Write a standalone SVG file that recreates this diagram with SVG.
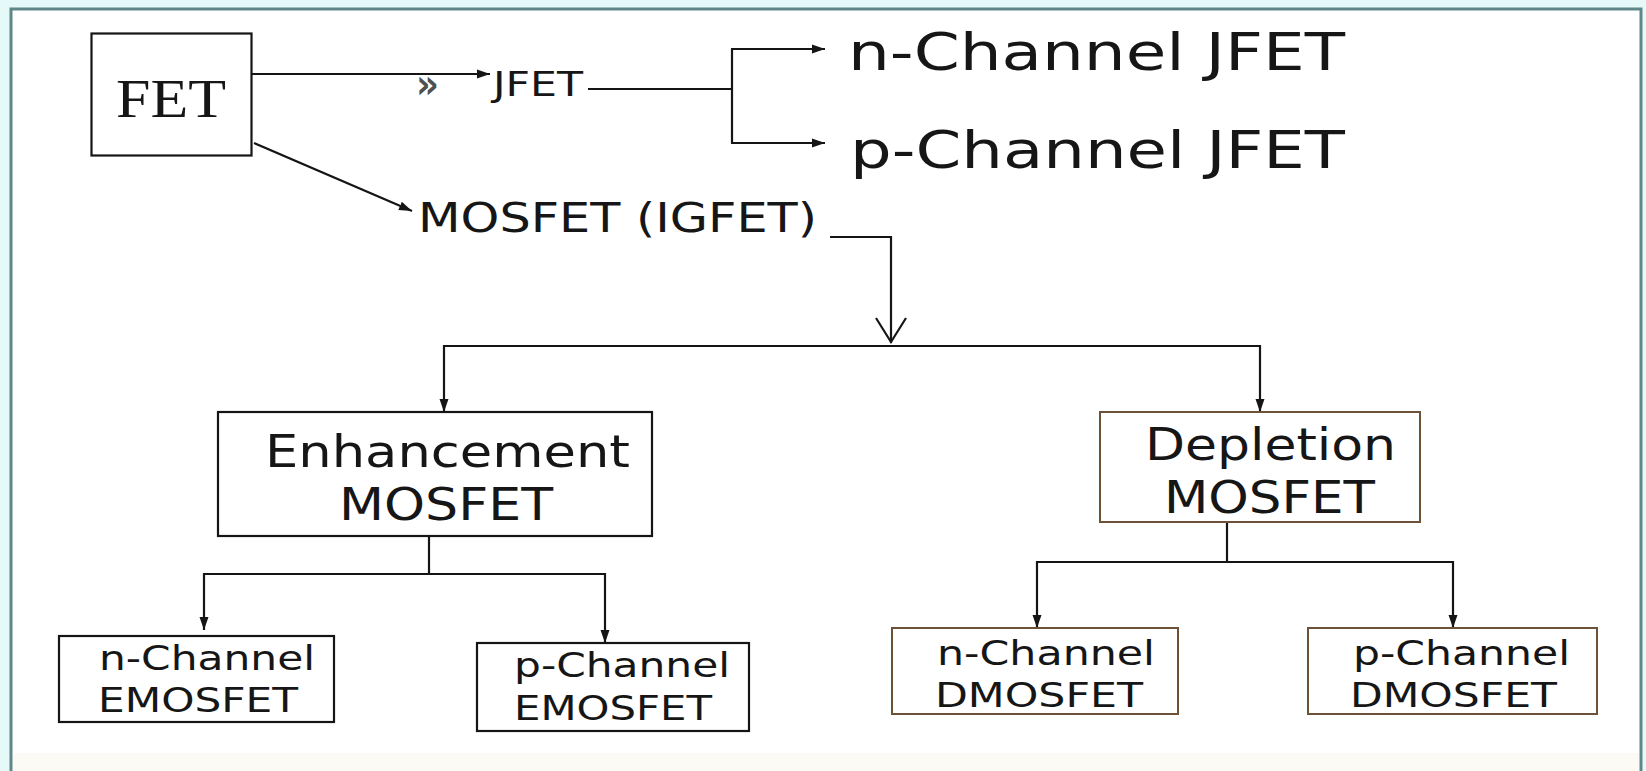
<svg xmlns="http://www.w3.org/2000/svg" width="1646" height="771" viewBox="0 0 1646 771">
<defs>
<style>
.t{font-family:"DejaVu Sans","Verdana",sans-serif;fill:#161616}
.s{font-family:"Liberation Serif","Times New Roman",serif;fill:#161616}
.bx{fill:#ffffff;stroke:#151515;stroke-width:2.2}
.bb{fill:#ffffff;stroke:#6e5238;stroke-width:2}
.c{fill:none;stroke:#151515;stroke-width:2.2}
</style>
<marker id="ah" markerWidth="13" markerHeight="10" refX="13" refY="5" orient="auto" markerUnits="userSpaceOnUse">
<path d="M0,0.5 L13,5 L0,9.5 z" fill="#151515"/>
</marker>
</defs>
<rect x="0" y="0" width="1646" height="771" fill="#e6f9f9"/>
<rect x="11" y="9" width="1630" height="780" fill="#ffffff" stroke="#5f8787" stroke-width="3"/>
<rect x="13" y="753" width="1626" height="18" fill="#fbfaf4"/>

<g id="connectors">
<line class="c" x1="252" y1="74" x2="490" y2="74" marker-end="url(#ah)"/>
<line class="c" x1="254" y1="143" x2="412" y2="211" marker-end="url(#ah)"/>
<polyline class="c" points="588,89 732,89"/>
<line class="c" x1="732" y1="49" x2="732" y2="143"/>
<line class="c" x1="731" y1="49" x2="825" y2="49" marker-end="url(#ah)"/>
<line class="c" x1="731" y1="143" x2="825" y2="143" marker-end="url(#ah)"/>
<polyline class="c" points="830,237 891,237 891,343"/>
<polyline class="c" points="876,318 891,342 906,318"/>
<line class="c" x1="444" y1="346" x2="1260" y2="346"/>
<line class="c" x1="444" y1="345" x2="444" y2="412" marker-end="url(#ah)"/>
<line class="c" x1="1260" y1="345" x2="1260" y2="412" marker-end="url(#ah)"/>
<line class="c" x1="429" y1="536" x2="429" y2="574"/>
<line class="c" x1="204" y1="574" x2="605" y2="574"/>
<line class="c" x1="204" y1="573" x2="204" y2="630" marker-end="url(#ah)"/>
<line class="c" x1="605" y1="573" x2="605" y2="643" marker-end="url(#ah)"/>
<line class="c" x1="1227" y1="522" x2="1227" y2="562"/>
<line class="c" x1="1037" y1="562" x2="1453" y2="562"/>
<line class="c" x1="1037" y1="561" x2="1037" y2="628" marker-end="url(#ah)"/>
<line class="c" x1="1453" y1="561" x2="1453" y2="628" marker-end="url(#ah)"/>
</g>

<g id="fet">
<rect class="bx" x="91.5" y="33.5" width="160" height="122"/>
<text class="s" x="116" y="117" font-size="54" textLength="110" lengthAdjust="spacingAndGlyphs">FET</text>
</g>

<g id="jfet">
<text class="t" x="416" y="98" font-size="40" font-weight="bold" textLength="23" lengthAdjust="spacingAndGlyphs" style="fill:#505050">»</text>
<text class="t" x="493" y="96" font-size="34" textLength="90" lengthAdjust="spacingAndGlyphs">JFET</text>
</g>

<g id="n-jfet">
<text class="t" x="848" y="70" font-size="52" textLength="497" lengthAdjust="spacingAndGlyphs">n-Channel JFET</text>
</g>
<g id="p-jfet">
<text class="t" x="850" y="168" font-size="52" textLength="495" lengthAdjust="spacingAndGlyphs">p-Channel JFET</text>
</g>

<g id="mosfet">
<text class="t" x="418" y="232" font-size="41" textLength="399" lengthAdjust="spacingAndGlyphs">MOSFET (IGFET)</text>
</g>

<g id="enhancement">
<rect class="bx" x="218" y="412" width="434" height="124"/>
<text class="t" x="265" y="467" font-size="44" textLength="365" lengthAdjust="spacingAndGlyphs">Enhancement</text>
<text class="t" x="339" y="520" font-size="44" textLength="214" lengthAdjust="spacingAndGlyphs">MOSFET</text>
</g>

<g id="depletion">
<rect class="bb" x="1100" y="412" width="320" height="110"/>
<text class="t" x="1145" y="460" font-size="44" textLength="251" lengthAdjust="spacingAndGlyphs">Depletion</text>
<text class="t" x="1164" y="513" font-size="44" textLength="211" lengthAdjust="spacingAndGlyphs">MOSFET</text>
</g>

<g id="n-emosfet">
<rect class="bx" x="59" y="636" width="275" height="86"/>
<text class="t" x="99" y="670" font-size="33" textLength="216" lengthAdjust="spacingAndGlyphs">n-Channel</text>
<text class="t" x="98" y="712" font-size="33" textLength="200" lengthAdjust="spacingAndGlyphs">EMOSFET</text>
</g>

<g id="p-emosfet">
<rect class="bx" x="477" y="643" width="272" height="88"/>
<text class="t" x="514" y="677" font-size="33" textLength="216" lengthAdjust="spacingAndGlyphs">p-Channel</text>
<text class="t" x="514" y="720" font-size="33" textLength="198" lengthAdjust="spacingAndGlyphs">EMOSFET</text>
</g>

<g id="n-dmosfet">
<rect class="bb" x="892" y="628" width="286" height="86"/>
<text class="t" x="937" y="665" font-size="33" textLength="218" lengthAdjust="spacingAndGlyphs">n-Channel</text>
<text class="t" x="935" y="707" font-size="33" textLength="208" lengthAdjust="spacingAndGlyphs">DMOSFET</text>
</g>

<g id="p-dmosfet">
<rect class="bb" x="1308" y="628" width="289" height="86"/>
<text class="t" x="1353" y="665" font-size="33" textLength="217" lengthAdjust="spacingAndGlyphs">p-Channel</text>
<text class="t" x="1350" y="707" font-size="33" textLength="207" lengthAdjust="spacingAndGlyphs">DMOSFET</text>
</g>
</svg>
